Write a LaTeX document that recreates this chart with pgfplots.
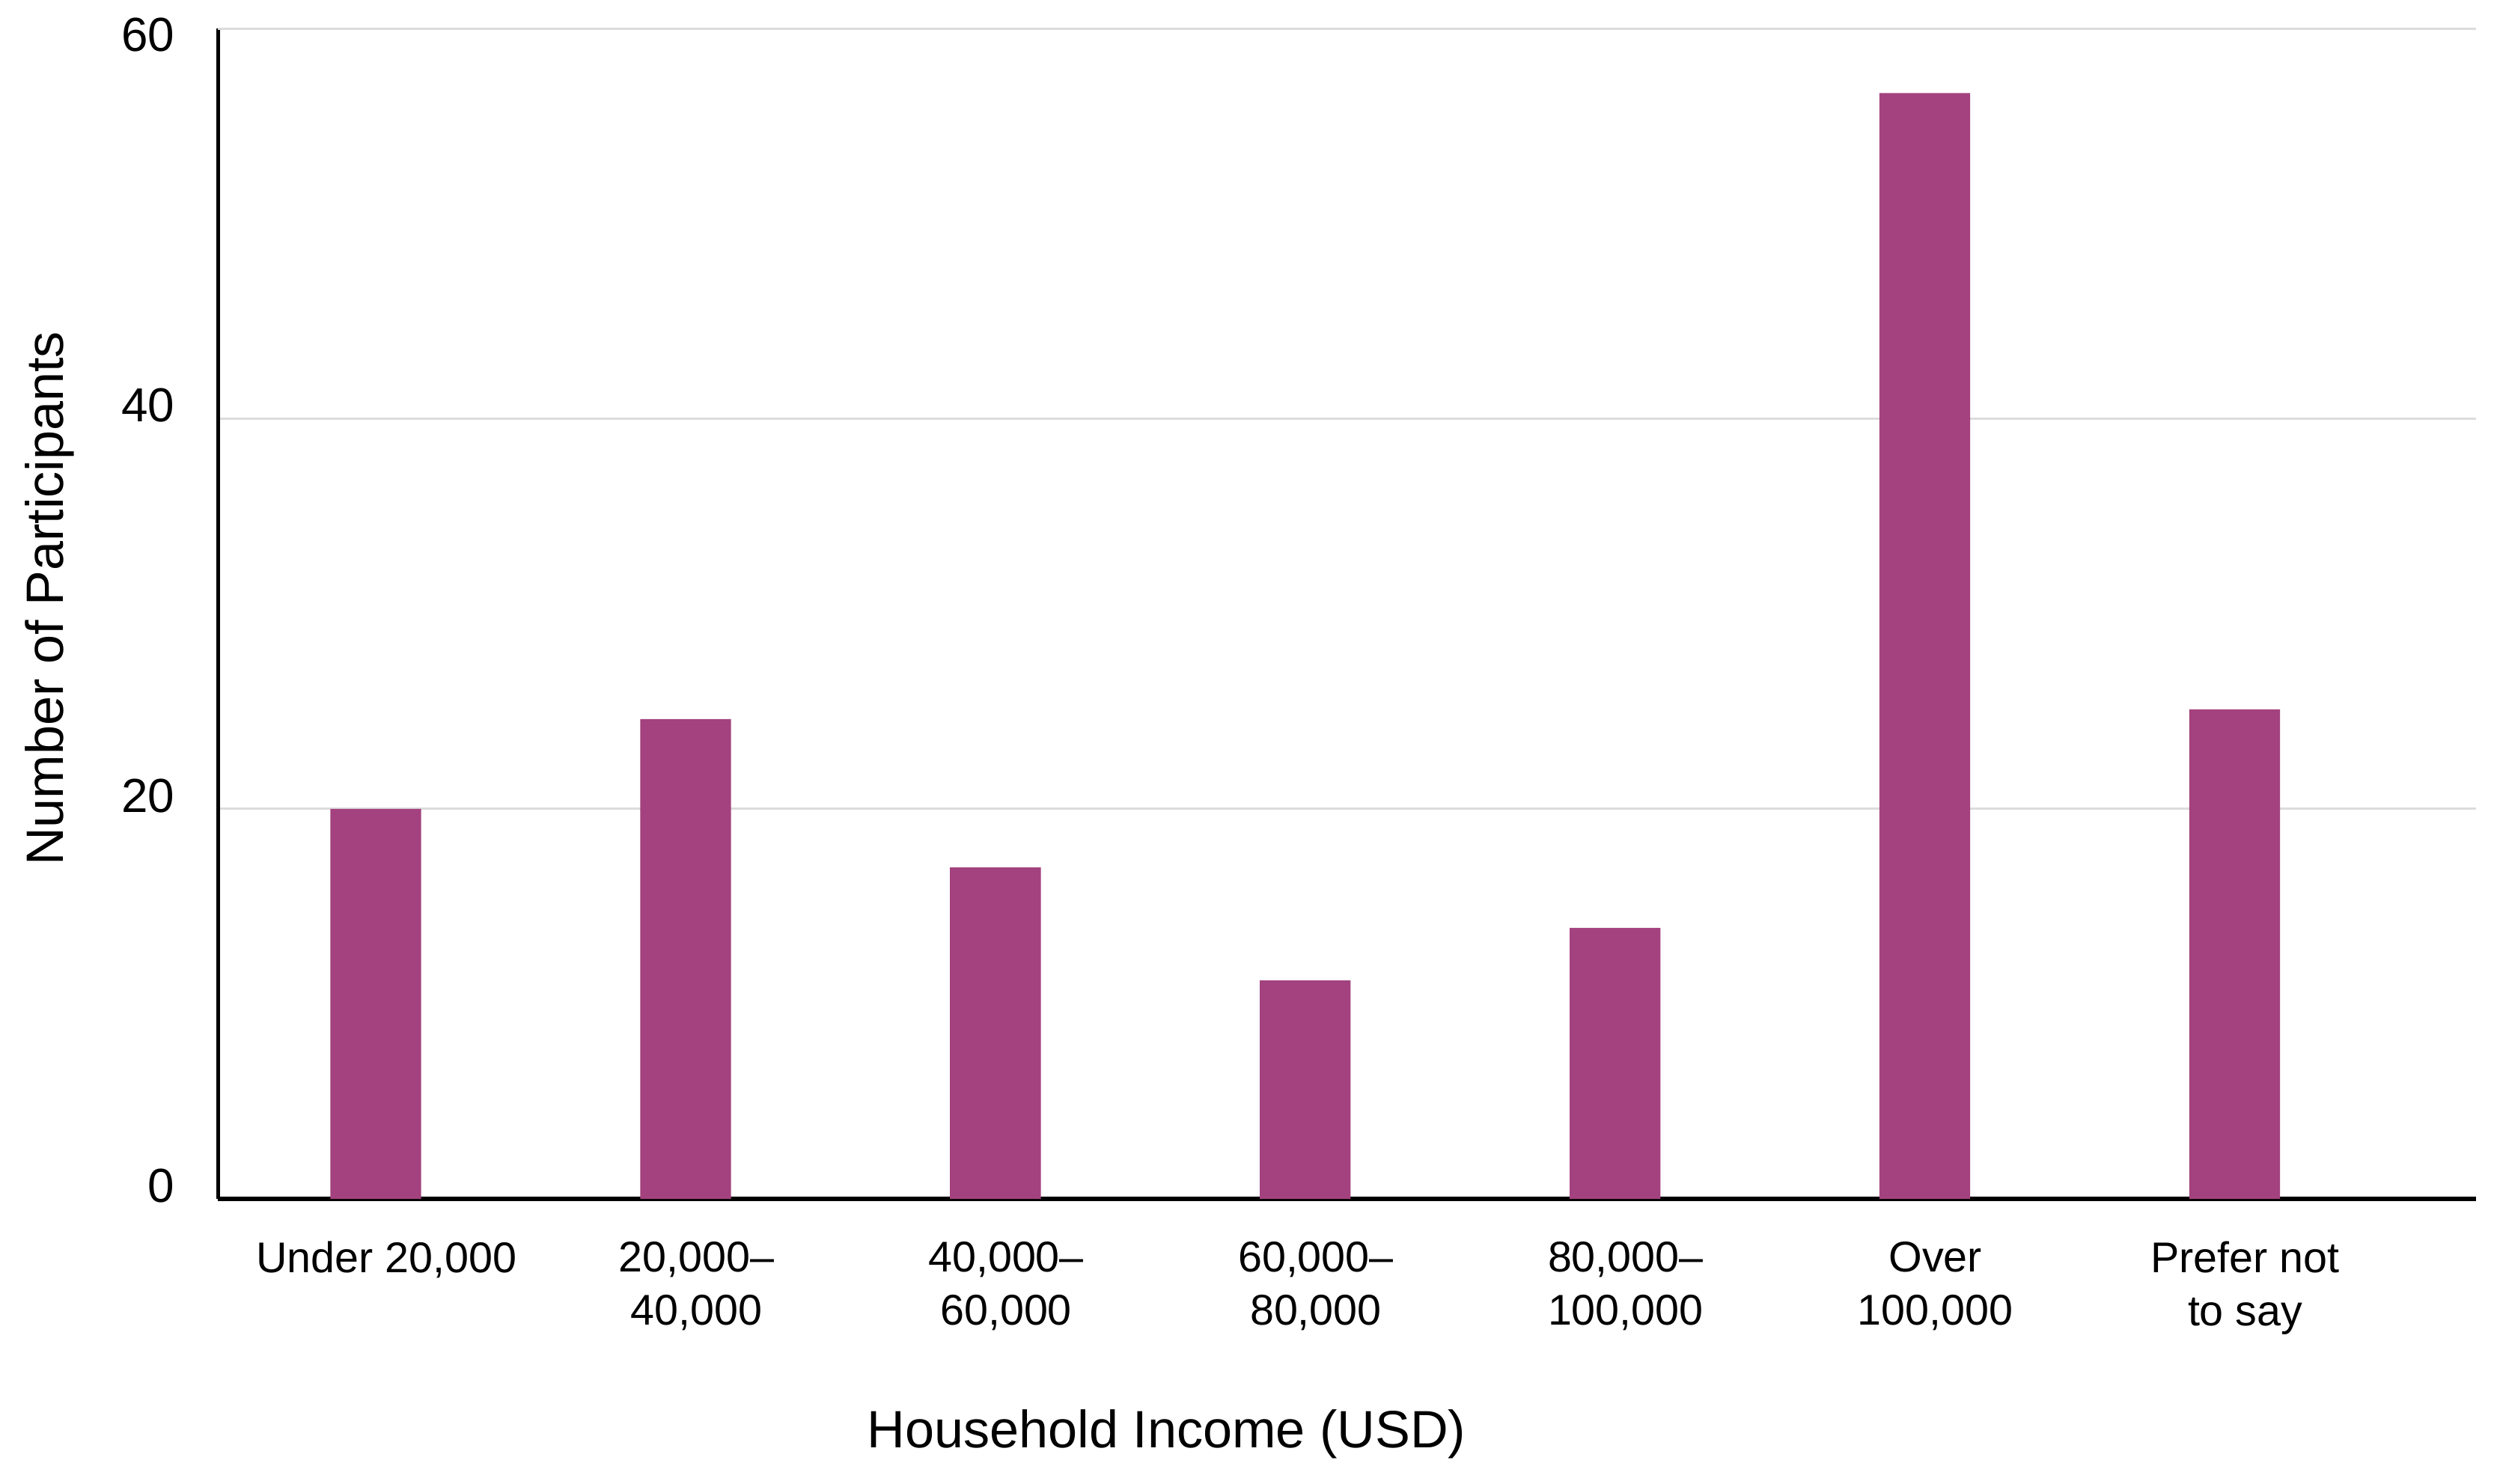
\documentclass[border=0pt]{standalone}
\usepackage{pgfplots}
\pgfplotsset{compat=1.18}
\usepackage{fontspec}
\setmainfont{Liberation Sans}
\definecolor{barc}{RGB}{163,66,126}
\definecolor{gridc}{RGB}{220,220,220}
\begin{document}
\begin{tikzpicture}
\begin{axis}[
  scale only axis,
  width=425.4pt, height=220.5pt,
  xmin=-0.509, xmax=6.78,
  ymin=0, ymax=60,
  axis x line=bottom, axis y line=left,
  x axis line style={-, line width=0.8pt, black},
  y axis line style={-, line width=0.6pt, black},
  ytick={0,20,40},
  extra y ticks={60},
  extra y tick style={ymajorgrids, yticklabel style={yshift=-3.6pt}},
  xtick={0,1,2,3,4,5,6},
  xticklabels={{Under 20,000},{20,000–\\40,000},{40,000–\\60,000},{60,000–\\80,000},{80,000–\\100,000},{Over\\100,000},{Prefer not\\to say}},
  major tick length=0pt,
  ymajorgrids,
  grid style={gridc, line width=0.4pt},
  /pgf/number format/assume math mode=true,
  xticklabel style={font=\fontsize{8.1}{10}\selectfont, align=center, anchor=north, yshift=-4.5pt, xshift=2pt},
  yticklabel style={font=\fontsize{9}{11}\selectfont, anchor=east, inner sep=0pt, xshift=-8pt, yshift=2.5pt},
  xlabel={Household Income (USD)},
  ylabel={Number of Participants},
  label style={font=\fontsize{9.9}{12}\selectfont},
  xlabel style={at={(axis description cs:0.42,-0.201)}, anchor=center},
  ylabel style={at={(axis description cs:-0.0745,0.513)}, anchor=center},
  clip=false,
]
\addplot[ybar, bar width=0.293, fill=barc, draw=none] coordinates {
  (0,20) (1,24.6) (2,17) (3,11.2) (4,13.9) (5,56.7) (6,25.1)
};
\path (axis description cs:-0.0966,-0.2435) rectangle (axis description cs:1.0092,1.0245);
\end{axis}
\end{tikzpicture}
\end{document}
